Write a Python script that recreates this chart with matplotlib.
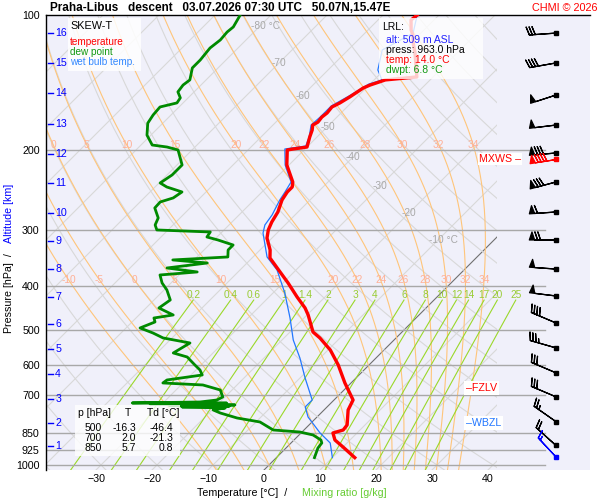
import numpy as np
import matplotlib.pyplot as plt
from matplotlib.patches import Rectangle
from matplotlib.ticker import NullLocator

plt.rcParams['font.family'] = ['Liberation Sans', 'DejaVu Sans']

# ---- sounding (pressure hPa, deg C) ----
temp_p = [100, 102.6, 108.0, 110.8, 115.4, 121.5, 137.3, 139.4, 143.1, 145.3, 152.0,
          156.8, 160.1, 165.1, 168.6, 173.0, 175.6, 180.2, 186.7, 196.5, 198.5, 199.5,
          215.4, 235.0, 241.1, 247.3, 257.7, 274.0, 288.4, 300.4, 313.0, 332.8, 346.7,
          372.4, 394.0, 423.2, 447.8, 464.1, 506.3, 522.0, 555.1, 599.4, 657.2, 717.0,
          754.6, 814.8, 836.0, 848.9, 879.8, 912.0, 963.0]
temp_t = [-53.9, -54.1, -52.3, -51.1, -49.6, -47.5, -42.9, -48.0, -49.8, -50.5, -51.3,
          -52.0, -52.7, -52.5, -52.7, -52.5, -52.9, -52.1, -51.3, -50.0, -52.1, -53.0,
          -50.4, -46.3, -45.5, -45.5, -45.0, -43.6, -42.9, -42.1, -40.9, -38.2, -36.8,
          -32.5, -29.1, -25.0, -21.6, -19.8, -15.9, -13.6, -9.6, -5.5, -1.1, 3.4,
          4.3, 6.8, 7.0, 5.7, 7.3, 10.0, 14.0]

dewp_p = [100, 106.3, 109.1, 113.6, 118.4, 125.9, 131.1, 139.4, 143.1, 148.2, 152.8,
          156.8, 160.1, 166.8, 173.9, 184.9, 194.5, 196.5, 199.5, 215.4, 226.7, 236.2,
          241.1, 247.3, 255.0, 260.3, 268.4, 282.5, 292.8, 300.4, 303.5, 311.4, 316.2,
          324.4, 332.8, 344.9, 350.2, 355.7, 364.9, 372.4, 378.2, 394.0, 408.3, 429.8,
          447.8, 464.1, 471.3, 481.0, 496.0, 508.9, 522.0, 535.6, 563.7, 575.4, 599.4,
          614.9, 630.9, 647.2, 657.2, 664.0, 681.2, 706.0, 717.0, 724.4, 728.0, 728.5,
          732.0, 735.6, 738.0, 741.0, 743.0, 746.9, 754.6, 766.3, 786.2, 802.4, 836.0,
          844.6, 857.6, 879.8, 893.5, 916.7, 963.0]
dewp_t = [-85.5, -84.6, -84.8, -84.6, -85.0, -84.6, -84.6, -82.9, -83.2, -82.9, -81.4,
          -81.1, -83.4, -83.2, -82.7, -80.7, -78.0, -75.0, -72.5, -69.1, -69.1, -69.8,
          -67.9, -64.3, -64.8, -66.4, -66.3, -63.9, -63.2, -62.0, -52.1, -51.8, -49.3,
          -45.7, -45.7, -44.5, -53.8, -47.1, -53.4, -47.3, -53.4, -51.6, -49.5, -47.1,
          -47.7, -43.9, -46.8, -45.9, -47.5, -44.3, -41.6, -35.9, -37.1, -33.9, -31.1,
          -29.3, -28.0, -33.4, -33.6, -26.1, -22.1, -20.4, -20.9, -23.6, -35.5, -18.6,
          -32.1, -16.8, -28.4, -17.6, -25.9, -18.0, -19.8, -18.0, -14.1, -9.3, -5.5,
          -0.4, 2.5, 4.8, 5.5, 5.7, 6.8]

wetb_p = [100, 109.7, 119.6, 132.5, 139.4, 142.4, 151.3, 159.3, 168.6, 175.6, 186.7,
          195.5, 198.5, 215.4, 235.0, 247.3, 257.7, 278.2, 292.8, 305.1, 324.4, 344.9,
          368.6, 414.7, 471.3, 527.4, 578.3, 640.6, 717.0, 743.0, 782.2, 848.9, 893.5, 963.0]
wetb_t = [-53.9, -51.4, -53.9, -51.1, -48.6, -50.2, -51.6, -53.0, -53.0, -53.2, -51.4,
          -50.4, -53.6, -50.7, -46.6, -45.9, -45.4, -44.1, -43.6, -42.5, -40.0, -37.5,
          -33.4, -27.9, -22.5, -18.0, -13.6, -9.1, -3.9, -3.9, -1.6, 3.4, 7.0, 10.0]

# wind (direction deg, speed kt)
wind_p = [109.7, 127.8, 150.6, 175.6, 202.6, 235.0, 274.0, 316.2, 366.9, 421.1,
          483.5, 549.3, 624.0, 705.6, 801.0, 905.0]
wind_dir = [266, 260, 252, 263, 265, 255, 266, 270, 274, 277, 293, 286, 293, 293, 305, 312]
wind_spd = [30, 40, 50, 50, 80, 80, 60, 70, 50, 50, 40, 35, 30, 30, 25, 20]
mxws_p, mxws_dir, mxws_spd = 208.9, 261, 90
sfc_p, sfc_dir, sfc_spd = 960.0, 317, 15

# altitude marks [km] and their pressure
alt_km = [1, 2, 3, 4, 5, 6, 7, 8, 9, 10, 11, 12, 13, 14, 15, 16]
alt_p = [907.4, 806.6, 713.4, 627.7, 552.4, 486.1, 423.3, 366.8, 317.8, 275.4,
         236.2, 203.7, 174.7, 149.1, 127.8, 109.7]

fzlv_p = 675
wbzl_p = 808

table_p = [500, 700, 850]
table_t = [-16.3, 2.0, 5.7]
table_td = [-46.4, -21.3, 0.8]

lrl_alt, lrl_press, lrl_temp, lrl_dwpt = 509, 963.0, 14.0, 6.8

isobars = [200, 300, 400, 500, 600, 700, 850, 925, 1000]
ytick_p = [100, 200, 300, 400, 500, 600, 700, 850, 925, 1000]
moist_thw = [-10, -5, 0, 5, 10, 15, 20, 22, 24, 26, 28, 30, 32, 34]
mix_ratio = [0.2, 0.4, 0.6, 1, 1.4, 2, 3, 4, 6, 8, 10, 12, 14, 17, 20, 25]
iso_label_t = [-80, -70, -60, -50, -40, -30, -20, -10]
iso_label_p = [106, 128, 151, 177, 207, 240, 275, 316]

P_BOT = 1025.9
K_SKEW = 80.36
X_MIN, X_MAX = -38.93, 58.21


def skew(t, p):
    return np.asarray(t, float) + K_SKEW * np.log10(P_BOT / np.asarray(p, float))


def es(tc):
    return 6.112 * np.exp(17.67 * tc / (tc + 243.5))


def moist_adiabats(thw, pg):
    Rd, cp, Lv, eps = 287.04, 1005.7, 2.501e6, 0.622

    def f(T, p):
        e = es(T - 273.15)
        rs = eps * e / (p - e)
        return (Rd * T + Lv * rs) / (p * (cp + Lv * Lv * rs * eps / (Rd * T * T)))

    T = np.array(thw, float) + 273.15
    out = [T.copy()]
    for i in range(1, len(pg)):
        h = pg[i] - pg[i - 1]
        p0 = pg[i - 1]
        k1 = f(T, p0)
        k2 = f(T + h / 2 * k1, p0 + h / 2)
        k3 = f(T + h / 2 * k2, p0 + h / 2)
        k4 = f(T + h * k3, p0 + h)
        T = T + h / 6 * (k1 + 2 * k2 + 2 * k3 + k4)
        out.append(T.copy())
    return np.array(out) - 273.15


def axc(x, y):
    # pixel position -> axes fraction
    return (x - 46) / 544, (470 - y) / 455


fig = plt.figure(figsize=(6, 5), dpi=100)
ax = fig.add_axes([46 / 600, 30 / 500, 544 / 600, 455 / 500])
ax.set_facecolor('#f0f0fa')
ax.set_yscale('log')
ax.set_ylim(P_BOT, 100)
ax.set_xlim(X_MIN, X_MAX)

clip = Rectangle((0, 0), (497 - 46) / 544, 1, transform=ax.transAxes)
pg = np.geomspace(100, P_BOT, 200)

# isotherms
for t in range(-120, 60, 10):
    ln, = ax.plot(skew(t, pg), pg, color='#707070' if t == 0 else '#d8d8d8',
                  lw=0.8, zorder=1)
    ln.set_clip_path(clip)
# dry adiabats
for th in range(-40, 190, 10):
    tt = (th + 273.15) * (pg / 1000.0) ** 0.2857 - 273.15
    ln, = ax.plot(skew(tt, pg), pg, color='#d8d8d8', lw=0.8, zorder=1)
    ln.set_clip_path(clip)

# moist adiabats
p_up = np.linspace(1000, 100, 901)
p_dn = np.linspace(1000, P_BOT, 27)
m_up = moist_adiabats(moist_thw, p_up)
m_dn = moist_adiabats(moist_thw, p_dn)
for j, thw in enumerate(moist_thw):
    pp = np.concatenate([p_dn[::-1], p_up[1:]])
    tt = np.concatenate([m_dn[::-1, j], m_up[1:, j]])
    ax.plot(skew(tt, pp), pp, color='#ffc57a', lw=0.8, zorder=2)
    for pl in (194, 388):
        xl = skew(m_up[1000 - pl, j], pl)
        if X_MIN - 0.5 < xl < 50:
            ax.text(max(xl, X_MIN + 1.1), pl, str(thw), color='#ffb096', fontsize=7.3,
                    ha='center', va='center', zorder=3)

# mixing ratio lines
pm = np.geomspace(430, P_BOT, 40)
for w in mix_ratio:
    e = w / 1000 * pm / (0.622 + w / 1000)
    le = np.log(e / 6.112)
    td = 243.5 * le / (17.67 - le)
    ax.plot(skew(td, pm), pm, color='#9ad82a', lw=0.8, zorder=2)
    ax.text(skew(td[0], 430), 419, f'{w:g}', color='#99cc33', fontsize=7.3,
            ha='center', va='center', zorder=3)

# isotherm labels
for t, pl in zip(iso_label_t, iso_label_p):
    if t in (-80, -10):
        ax.annotate(f'{t} °C', (skew(t, pl), pl), xytext=(-9, 0),
                    textcoords='offset pixels', ha='left', va='center',
                    color='#a8a8a8', fontsize=7.3, zorder=3)
    else:
        ax.text(skew(t, pl), pl, str(t), ha='center', va='center',
                color='#a8a8a8', fontsize=7.3, zorder=3)

# isobars
for p in isobars:
    ax.plot([X_MIN, 50.18], [p, p], color='#a8a8a8', lw=1, zorder=2)

# profiles
ax.plot(skew(wetb_t, wetb_p), wetb_p, color='#2277ff', lw=0.9, zorder=5)
ax.plot(skew(dewp_t, dewp_p), dewp_p, color='#008a00', lw=2.0, zorder=6)
ax.plot(skew(temp_t, temp_p), temp_p, color='#ff0000', lw=2.4, zorder=7)

# wind barbs
xb = 52.14
bsz = dict(height=0.3, spacing=0.11, width=0.2)


def uv(d, s):
    d = np.radians(np.asarray(d, float))
    s = np.asarray(s, float)
    return -s * np.sin(d), -s * np.cos(d)


u, v = uv(wind_dir, wind_spd)
ax.barbs(np.full(len(wind_p), xb), wind_p, u, v, length=6.2, color='k',
         lw=0.9, sizes=bsz, zorder=9)
ax.plot(np.full(len(wind_p), xb), wind_p, 's', ms=2.3, color='k', zorder=10)
u, v = uv([mxws_dir], [mxws_spd])
ax.barbs([xb], [mxws_p], u, v, length=6.2, color='#ff0000', lw=0.9, sizes=bsz, zorder=9)
ax.plot([xb], [mxws_p], 's', ms=2.3, color='#ff0000', zorder=10)
u, v = uv([sfc_dir], [sfc_spd])
ax.barbs([xb], [sfc_p], u, v, length=6.2, color='#0000ff', lw=0.9, sizes=bsz, zorder=9)
ax.plot([xb], [sfc_p], 's', ms=2.3, color='#0000ff', zorder=10)

ax.text(45.9, mxws_p, 'MXWS –', color='#ff0000', fontsize=7.7,
        ha='right', va='center', zorder=9,
        bbox=dict(facecolor='white', edgecolor='none', pad=1))
ax.text(36.0, fzlv_p, '–FZLV', color='#ff0000', fontsize=7.7, ha='left', va='center',
        zorder=9, bbox=dict(facecolor='white', edgecolor='none', pad=1.5))
ax.text(36.0, wbzl_p, '–WBZL', color='#2277ff', fontsize=7.7, ha='left', va='center',
        zorder=9, bbox=dict(facecolor='white', edgecolor='none', pad=1.5))

# altitude marks
yt = ax.get_yaxis_transform()
for a, p in zip(alt_km, alt_p):
    ax.plot([0.004, 0.013], [p, p], transform=yt, color='#0000ff', lw=1, zorder=4)
    ax.text(0.017, p, str(a), transform=yt, color='#0000ff', fontsize=7.7,
            va='center', ha='left', zorder=4)

# legend box
ax.add_patch(Rectangle(axc(68, 71), 73 / 544, 53 / 455, transform=ax.transAxes,
                       facecolor='white', edgecolor='none', alpha=0.85, zorder=8))
for txt, col, yy, fs in [('SKEW-T', 'black', 26, 7.8), ('temperature', '#ff0000', 42, 7.2),
                         ('dew point', '#119911', 52, 7.2),
                         ('wet bulb temp.', '#3388ff', 62, 7.2)]:
    ax.text(*axc(70, yy), txt, color=col, fontsize=fs, transform=ax.transAxes,
            va='center', ha='left', zorder=9)

# LRL box
ax.add_patch(Rectangle(axc(379, 79), 104 / 544, 61 / 455, transform=ax.transAxes,
                       facecolor='white', edgecolor='none', alpha=0.8, zorder=8))
ax.text(*axc(382, 27), 'LRL:', fontsize=7.5, transform=ax.transAxes, va='center', zorder=9)
for txt, col, yy in [(f'alt: {lrl_alt} m ASL', '#2222ff', 40),
                     (f'press: {lrl_press:.1f} hPa', 'black', 50),
                     (f'temp: {lrl_temp:.1f} °C', '#ff0000', 60),
                     (f'dwpt: {lrl_dwpt:.1f} °C', '#119911', 70)]:
    ax.text(*axc(386, yy), txt, color=col, fontsize=7.5, transform=ax.transAxes,
            va='center', ha='left', zorder=9)

# table box
ax.add_patch(Rectangle(axc(75, 456), 105 / 544, 51 / 455, transform=ax.transAxes,
                       facecolor='white', edgecolor='none', alpha=0.8, zorder=8))
ax.text(*axc(78, 413), 'p [hPa]', fontsize=7.5, transform=ax.transAxes, va='center', zorder=9)
ax.text(*axc(128, 413), 'T', fontsize=7.5, transform=ax.transAxes, va='center',
        ha='center', zorder=9)
ax.text(*axc(147, 413), 'Td [°C]', fontsize=7.5, transform=ax.transAxes, va='center', zorder=9)
for i, (p, t, td) in enumerate(zip(table_p, table_t, table_td)):
    yy = 428 + 10 * i
    for xx, s in [(102, f'{p}'), (136, f'{t:.1f}'), (173, f'{td:.1f}')]:
        ax.text(*axc(xx, yy), s, fontsize=7.5, transform=ax.transAxes, va='center',
                ha='right', zorder=9)

# axes
ax.set_yticks(ytick_p, labels=[str(p) for p in ytick_p])
ax.yaxis.set_minor_locator(NullLocator())
ax.set_xticks(range(-30, 50, 10))
ax.tick_params(length=0, labelsize=7.7)
ax.tick_params(axis='y', pad=4.5)
ax.tick_params(axis='x', pad=3)
for s in ('right', 'bottom'):
    ax.spines[s].set_visible(False)
for s in ('left', 'top'):
    ax.spines[s].set_color('black')
    ax.spines[s].set_linewidth(1)

fig.text(9 / 600, 1 - 333 / 500, 'Pressure [hPa]  /', rotation=90, ha='center',
         va='bottom', fontsize=7.7)
fig.text(9 / 600, 1 - 243 / 500, 'Altitude [km]', rotation=90, ha='center',
         va='bottom', fontsize=7.7, color='#0000ff')
fig.text(197 / 600, 1 - 493 / 500, 'Temperature [°C]  /', ha='left', va='center',
         fontsize=7.7)
fig.text(302 / 600, 1 - 493 / 500, 'Mixing ratio [g/kg]', ha='left', va='center',
         fontsize=7.7, color='#66cc33')
fig.text(50 / 600, 1 - 8 / 500,
         'Praha-Libus   descent   03.07.2026 07:30 UTC   50.07N,15.47E',
         ha='left', va='center', fontsize=8.5, fontweight='bold')
fig.text(597 / 600, 1 - 8 / 500, 'CHMI © 2026', ha='right', va='center',
         fontsize=7.8, color='#ff0000')

fig.savefig('out.png', dpi=100)
